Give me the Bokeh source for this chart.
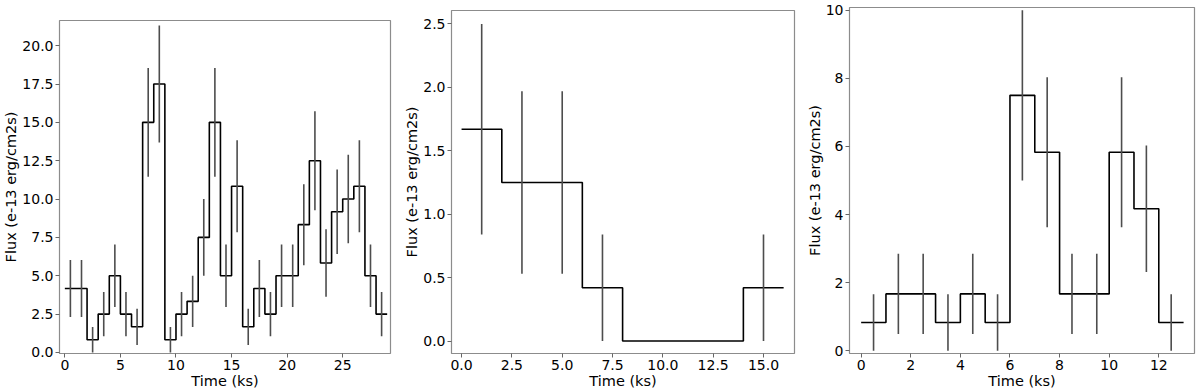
from bokeh.plotting import figure
from bokeh.layouts import row, column
from bokeh.models import FixedTicker, Range1d, ColumnDataSource
from bokeh.embed import file_html
from bokeh.resources import INLINE

# ---- Panel 1: 29 bins of 1 ks ----
p1_edges = list(range(0, 30))
p1_flux = [4.17, 4.17, 0.83, 2.5, 5.0, 2.5, 1.67, 15.0, 17.5, 0.83, 2.5, 3.33, 7.5, 15.0, 5.0,
           10.83, 1.67, 4.17, 2.5, 5.0, 5.0, 8.33, 12.5, 5.83, 9.17, 10.0, 10.83, 5.0, 2.5]
p1_err = [1.86, 1.86, 0.83, 1.44, 2.04, 1.44, 1.18, 3.54, 3.82, 0.83, 1.44, 1.67, 2.5, 3.54, 2.04,
          3.0, 1.18, 1.86, 1.44, 2.04, 2.04, 2.64, 3.23, 2.2, 2.76, 2.89, 3.0, 2.04, 1.44]
p1_xticks = [0, 5, 10, 15, 20, 25]
p1_yticks = [0.0, 2.5, 5.0, 7.5, 10.0, 12.5, 15.0, 17.5, 20.0]

# ---- Panel 2: 8 bins of 2 ks ----
p2_edges = [0, 2, 4, 6, 8, 10, 12, 14, 16]
p2_flux = [1.67, 1.25, 1.25, 0.42, 0.0, 0.0, 0.0, 0.42]
p2_err = [0.83, 0.72, 0.72, 0.42, 0.0, 0.0, 0.0, 0.42]
p2_xticks = [0.0, 2.5, 5.0, 7.5, 10.0, 12.5, 15.0]
p2_yticks = [0.0, 0.5, 1.0, 1.5, 2.0, 2.5]

# ---- Panel 3: 13 bins of 1 ks ----
p3_edges = list(range(0, 14))
p3_flux = [0.83, 1.67, 1.67, 0.83, 1.67, 0.83, 7.5, 5.83, 1.67, 1.67, 5.83, 4.17, 0.83]
p3_err = [0.83, 1.18, 1.18, 0.83, 1.18, 0.83, 2.5, 2.2, 1.18, 1.18, 2.2, 1.86, 0.83]
p3_xticks = [0, 2, 4, 6, 8, 10, 12]
p3_yticks = [0, 2, 4, 6, 8, 10]

FONT = "DejaVu Sans"


def fmt_ticks(ticks, decimals):
    return {t: (f"{t:.{decimals}f}") for t in ticks}


def panel(edges, flux, err, xticks, yticks, xr, yr, width, height, decimals_x, decimals_y,
          border_left, border_right, border_top):
    p = figure(width=width, height=height, output_backend="svg", toolbar_location=None,
               x_range=Range1d(*xr), y_range=Range1d(*yr),
               min_border_left=border_left, min_border_right=border_right,
               min_border_top=border_top, min_border_bottom=0)
    p.grid.visible = False
    p.outline_line_color = "#8c8c8c"
    p.outline_line_width = 1.2
    p.background_fill_color = "white"
    p.border_fill_color = "white"

    # step line (post-step)
    xs, ys = [], []
    for i, f in enumerate(flux):
        xs += [edges[i], edges[i + 1]]
        ys += [f, f]
    p.line(xs, ys, line_color="black", line_width=1.6)

    # error bars at bin centres
    centers = [(edges[i] + edges[i + 1]) / 2 for i in range(len(flux))]
    lo = [f - e for f, e in zip(flux, err)]
    hi = [f + e for f, e in zip(flux, err)]
    src = ColumnDataSource(dict(x=centers, lo=lo, hi=hi))
    p.segment(x0="x", y0="lo", x1="x", y1="hi", source=src, line_color="#4d4d4d", line_width=1.6)

    p.xaxis.ticker = FixedTicker(ticks=xticks)
    p.yaxis.ticker = FixedTicker(ticks=yticks)
    p.xaxis.major_label_overrides = fmt_ticks(xticks, decimals_x)
    p.yaxis.major_label_overrides = fmt_ticks(yticks, decimals_y)
    p.xaxis.axis_label = "Time (ks)"
    p.yaxis.axis_label = "Flux (e-13 erg/cm2s)"
    for ax in (p.xaxis, p.yaxis):
        ax.axis_line_color = None
        ax.major_tick_line_color = "#666666"
        ax.major_tick_out = 4
        ax.major_tick_in = 0
        ax.minor_tick_line_color = None
        ax.major_label_text_font = FONT
        ax.major_label_text_font_size = "14px"
        ax.major_label_text_color = "black"
        ax.axis_label_text_font = FONT
        ax.axis_label_text_font_size = "14.5px"
        ax.axis_label_text_font_style = "normal"
        ax.axis_label_text_color = "black"
    p.xaxis.major_label_standoff = 2
    p.xaxis.axis_label_standoff = 0
    p.yaxis.major_label_standoff = 2
    p.yaxis.axis_label_standoff = 0
    return p


H = 391
p1 = panel(p1_edges, p1_flux, p1_err, p1_xticks, p1_yticks, (-0.48, 29.3), (-0.07, 21.64),
           400, H, 0, 1, 57, 10, 20)
p2 = panel(p2_edges, p2_flux, p2_err, p2_xticks, p2_yticks, (-0.5, 16.54), (-0.098, 2.606),
           400, H, 1, 1, 51, 6, 10)
p3 = panel(p3_edges, p3_flux, p3_err, p3_xticks, p3_yticks, (-0.47, 13.44), (-0.08, 10.08),
           400, H, 0, 0, 49, 6, 7)

layout = row(column(p1), column(p2), column(p3), spacing=0)
open("out.html", "w").write(file_html(layout, INLINE))
